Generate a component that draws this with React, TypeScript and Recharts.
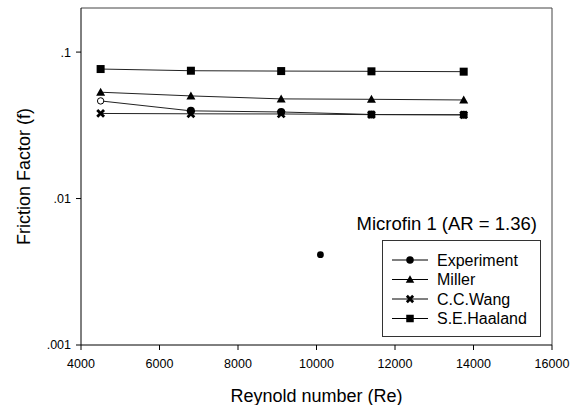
import React from 'react';
import { ComposedChart, Line, XAxis, YAxis, Legend, ReferenceLine, Label } from 'recharts';

// Reynolds numbers of the measured / predicted points
const reynolds = [4500, 6800, 9100, 11400, 13750];

// friction factor series
const experiment = [0.0464, 0.0397, 0.039, 0.0375, 0.0373];
const miller = [0.0532, 0.0502, 0.0479, 0.0476, 0.0471];
const ccWang = [0.0381, 0.0379, 0.0378, 0.0374, 0.0373];
const haaland = [0.0766, 0.0746, 0.0742, 0.0739, 0.0735];

// single stray experimental point
const strayRe = [10100];
const strayF = [0.00414];

const seriesNames = ['Experiment', 'Miller', 'C.C.Wang', 'S.E.Haaland'];
const seriesShapes = ['circle', 'triangle', 'cross', 'square'];
const xTicks = [4000, 6000, 8000, 10000, 12000, 14000, 16000];
const yTicks = [0.001, 0.01, 0.1];

const FONT = '"Liberation Sans", Arial, Helvetica, sans-serif';

const toPoints = (xs: number[], ys: number[]) => xs.map((re, i) => ({ re, f: ys[i] }));

const Marker = ({ cx, cy, shape, size = 8, hollow = false }: any) => {
  const h = size / 2;
  if (cx == null || cy == null) return null;
  if (shape === 'circle') {
    return hollow
      ? <circle cx={cx} cy={cy} r={h - 0.8} fill="#fff" stroke="#000" strokeWidth={1} />
      : <circle cx={cx} cy={cy} r={h} fill="#000" />;
  }
  if (shape === 'square') {
    return <rect x={cx - h} y={cy - h} width={size} height={size} fill="#000" />;
  }
  if (shape === 'triangle') {
    return <polygon points={`${cx},${cy - h - 0.5} ${cx + h + 0.5},${cy + h - 0.5} ${cx - h - 0.5},${cy + h - 0.5}`} fill="#000" />;
  }
  const c = h - 0.6;
  return (
    <path d={`M${cx - c},${cy - c}L${cx + c},${cy + c}M${cx + c},${cy - c}L${cx - c},${cy + c}`}
      stroke="#000" strokeWidth={2.8} fill="none" />
  );
};

const dotOf = (shape: string, firstHollow = false) => (p: any) => (
  <g key={`d-${shape}-${p.index}`}>
    <Marker cx={p.cx} cy={p.cy} shape={shape} hollow={firstHollow && p.index === 0} />
  </g>
);

const renderLegend = () => (
  <svg width={200} height={130} style={{ fontFamily: FONT }}>
    <text x={187} y={20} textAnchor="end" fontSize={18.5} fill="#000">Microfin 1 (AR = 1.36)</text>
    <rect x={32.5} y={30.5} width={158} height={96} fill="#fff" stroke="#333" strokeWidth={1} />
    {seriesNames.map((name, i) => {
      const y = 50 + i * 19.5;
      return (
        <g key={name}>
          <line x1={42} x2={78} y1={y} y2={y} stroke="#000" strokeWidth={1} />
          <Marker cx={60} cy={y} shape={seriesShapes[i]} size={7.5} />
          <text x={87} y={y} dy="0.35em" fontSize={16} fill="#000">{name}</text>
        </g>
      );
    })}
  </svg>
);

export default function App() {
  const tickStyle = { fill: '#000', fontSize: 12.5, fontFamily: FONT };
  return (
    <div style={{ position: 'absolute', left: 0, top: 0, width: 579, height: 405, background: '#fff' }}>
      <ComposedChart width={579} height={405} margin={{ top: 8, right: 27, left: 0, bottom: 0 }}
        style={{ fontFamily: FONT }}>
        <XAxis type="number" dataKey="re" domain={[4000, 16000]} ticks={xTicks} allowDataOverflow
          height={60} tickSize={5} tickMargin={9} tick={tickStyle}
          axisLine={{ stroke: '#000' }} tickLine={{ stroke: '#000' }}>
          <Label value="Reynold number (Re)" position="insideBottom" offset={3}
            style={{ fontSize: 18, fill: '#000', fontFamily: FONT }} />
        </XAxis>
        <YAxis type="number" dataKey="f" scale="log" domain={[0.001, 0.2]} ticks={yTicks} allowDataOverflow
          width={81} tickSize={5} tickMargin={5} tick={tickStyle}
          tickFormatter={(v: number) => String(v).replace(/^0/, '')}
          axisLine={{ stroke: '#000' }} tickLine={{ stroke: '#000' }}>
          <Label value="Friction Factor (f)" angle={-90} position="insideLeft" offset={24}
            style={{ fontSize: 18, fill: '#000', fontFamily: FONT, textAnchor: 'middle' }} />
        </YAxis>
        <ReferenceLine y={0.2} stroke="#444" strokeWidth={1} />
        <ReferenceLine x={16000} stroke="#444" strokeWidth={1} />

        <Line data={toPoints(reynolds, haaland)} dataKey="f" name="S.E.Haaland" stroke="#222" strokeWidth={1}
          dot={dotOf('square')} activeDot={false} isAnimationActive={false} />
        <Line data={toPoints(reynolds, miller)} dataKey="f" name="Miller" stroke="#222" strokeWidth={1}
          dot={dotOf('triangle')} activeDot={false} isAnimationActive={false} />
        <Line data={toPoints(reynolds, ccWang)} dataKey="f" name="C.C.Wang" stroke="#222" strokeWidth={1}
          dot={dotOf('cross')} activeDot={false} isAnimationActive={false} />
        <Line data={toPoints(reynolds, experiment)} dataKey="f" name="Experiment" stroke="#222" strokeWidth={1}
          dot={dotOf('circle', true)} activeDot={false} isAnimationActive={false} />
        <Line data={toPoints(strayRe, strayF)} dataKey="f" name="Experiment (stray)" stroke="none"
          legendType="none" dot={(p: any) => (
            <g key={`s-${p.index}`}><circle cx={p.cx} cy={p.cy} r={3.4} fill="#000" /></g>
          )} activeDot={false} isAnimationActive={false} />

        <Legend layout="vertical" align="center" verticalAlign="middle" content={renderLegend}
          wrapperStyle={{ left: 350, top: 210, width: 200, height: 130 }} />
      </ComposedChart>
    </div>
  );
}
